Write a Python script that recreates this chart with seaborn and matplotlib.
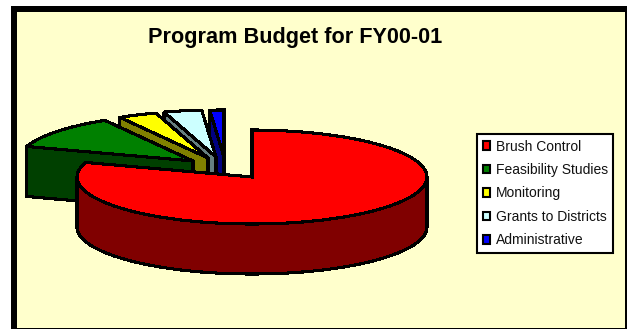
import numpy as np
import matplotlib
matplotlib.use("Agg")
import matplotlib.pyplot as plt
from matplotlib.patches import Rectangle, Patch
from matplotlib.transforms import Affine2D
import seaborn as sns

# Budget shares in percent
programs = ["Brush Control", "Feasibility Studies", "Monitoring",
            "Grants to Districts", "Administrative"]
shares = [80.0, 11.6, 3.6, 3.5, 1.3]

top_colors = ["#FF0000", "#008000", "#FFFF00", "#CCFFFF", "#0000FF"]
side_colors = ["#800000", "#004000", "#808000", "#668080", "#000080"]

# Projection of the tilted pie, in pixel-sized axis units
RX, RY, DEPTH = 175.0, 47.0, 50.0
CENTER = (252.0, 177.0)
# Where each slice's tip has been pulled to
tips = [(252, 177), (193, 161), (208, 158), (216, 157), (224, 157)]
EDGE_W = 1.5

sns.set_theme(style="white")
plt.rcParams["font.family"] = ["Liberation Sans", "DejaVu Sans"]

fig = plt.figure(figsize=(6.27, 3.29), dpi=100, facecolor="white")
ax = fig.add_axes([0, 0, 1, 1])

wedges, _ = ax.pie(shares, colors=top_colors, startangle=90, counterclock=False,
                   radius=RX, center=(0, 0),
                   wedgeprops=dict(edgecolor="black", linewidth=EDGE_W, antialiased=False))
ax.set_aspect("auto")
ax.set_xlim(0, 627)
ax.set_ylim(329, 0)
ax.set_axis_on()
ax.set_xticks([])
ax.set_yticks([])
for s in ax.spines.values():
    s.set_visible(False)

ax.add_patch(Rectangle((11, 6), 620, 330, facecolor="black", edgecolor="none", zorder=0))
ax.add_patch(Rectangle((17, 12), 608, 316, facecolor="#FFFFCC", edgecolor="none", zorder=0.5))


def rim(tip, degrees):
    rad = np.radians(degrees)
    return tip[0] + RX * np.cos(rad), tip[1] - RY * np.sin(rad)


def wall(xs, ys, color, z):
    px = np.concatenate([xs, xs[::-1]])
    py = np.concatenate([ys, ys[::-1] + DEPTH])
    ax.fill(px, py, facecolor=color, edgecolor="black", linewidth=EDGE_W,
            antialiased=False, zorder=z, joinstyle="round")


# Back slices first, so the nearer ones overlap them; each shows its cut face
z = 2
for i in range(len(wedges) - 1, 0, -1):
    w, tip = wedges[i], tips[i]
    # clockwise slices: theta2 is the edge that faces the viewer
    ex, ey = rim(tip, w.theta2)
    wall(np.array([ex, tip[0]]), np.array([ey, tip[1]]), side_colors[i], z)
    w.set_transform(Affine2D().scale(1, -RY / RX).translate(*tip) + ax.transData)
    w.set_zorder(z + 1)
    z += 2

# The large slice: outer wall along the near half, then its top
arc = np.linspace(180, 360, 181)
rad = np.radians(arc)
wall(CENTER[0] + RX * np.cos(rad), CENTER[1] - RY * np.sin(rad), side_colors[0], z)
wedges[0].set_transform(Affine2D().scale(1, -RY / RX).translate(*CENTER) + ax.transData)
wedges[0].set_zorder(z + 1)

ax.text(295.5, 37, "Program Budget for FY00-01", ha="center", va="center",
        fontsize=15.6, fontweight="bold", color="black", zorder=20)

handles = [Patch(facecolor=c, edgecolor="black", linewidth=1.5) for c in top_colors]
leg = ax.legend(handles, programs, loc="upper left",
                bbox_to_anchor=(477, 134), bbox_transform=ax.transData,
                borderaxespad=0, fontsize=10.0, frameon=True, fancybox=False,
                framealpha=1, facecolor="white", edgecolor="black",
                handlelength=0.55, handleheight=0.55, handletextpad=0.4,
                labelspacing=0.68, borderpad=0.4, labelcolor="#111111")
leg.get_frame().set_linewidth(1.5)
leg.set_zorder(20)

fig.savefig("out.png", dpi=100, facecolor="white")
